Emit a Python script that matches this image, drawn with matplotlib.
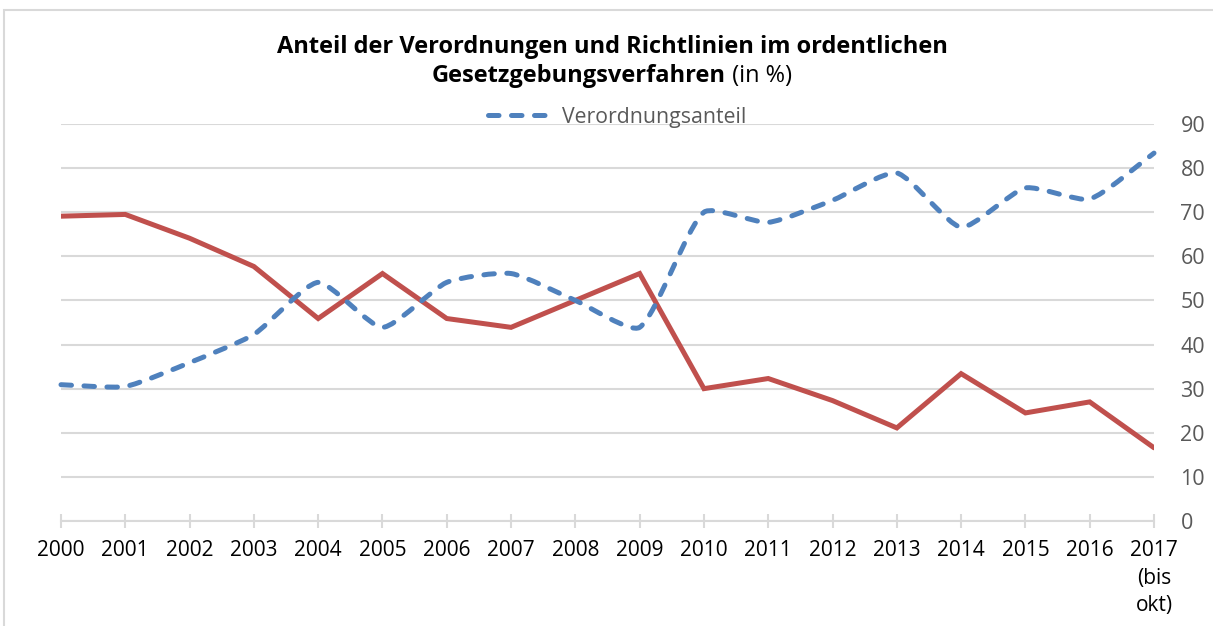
import matplotlib
matplotlib.use('Agg')
import matplotlib.pyplot as plt
from matplotlib.path import Path
from matplotlib.patches import PathPatch, Rectangle
from matplotlib.lines import Line2D
import numpy as np

# ---------------- data ----------------
years = ['2000', '2001', '2002', '2003', '2004', '2005', '2006', '2007', '2008',
         '2009', '2010', '2011', '2012', '2013', '2014', '2015', '2016',
         '2017\n(bis\nokt)']
verordnungsanteil = [30.9, 30.5, 35.9, 42.3, 54.1, 43.9, 54.1, 56.1, 50.0,
                     43.9, 70.0, 67.7, 72.7, 78.9, 66.6, 75.5, 73.0, 83.4]
richtlinienanteil = [69.1, 69.5, 64.1, 57.7, 45.9, 56.1, 45.9, 43.9, 50.0,
                     56.1, 30.0, 32.3, 27.3, 21.1, 33.4, 24.5, 27.0, 16.6]
y_ticks = [0, 10, 20, 30, 40, 50, 60, 70, 80, 90]

BLUE = '#4F81BD'
RED = '#C0504D'
GRID = '#D9D9D9'
TXT = '#595959'
FONT = 'Open Sans'

W, H = 1213, 626
fig = plt.figure(figsize=(W / 100, H / 100), dpi=100)
fig.patch.set_facecolor('white')

# chart-area border (partially visible)
fig.add_artist(Rectangle((4 / W, -0.1), 1.2, 1 - 10 / H + 0.1, transform=fig.transFigure,
                         fill=False, edgecolor='#D9D9D9', linewidth=1.5))

left, right, top, bottom = 61, 1154, 124, 521
ax = fig.add_axes([left / W, 1 - bottom / H, (right - left) / W, (bottom - top) / H])
x = np.arange(len(years))
ax.set_xlim(0, len(years) - 1)
ax.set_ylim(0, 90)

for s in ['top', 'left', 'right']:
    ax.spines[s].set_visible(False)
ax.spines['bottom'].set_color(GRID)
ax.spines['bottom'].set_linewidth(1.5)

ax.yaxis.tick_right()
ax.set_yticks(y_ticks)
ax.set_yticklabels([str(v) for v in y_ticks], fontfamily=FONT, fontsize=15.5, color=TXT)
ax.tick_params(axis='y', length=0, pad=19)
for lab in ax.get_yticklabels():
    lab.set_horizontalalignment('left')
ax.yaxis.grid(True, color=GRID, linewidth=1.5)
ax.set_axisbelow(True)

ax.set_xticks(x)
ax.set_xticklabels(years, fontfamily=FONT, fontsize=15, color='black', linespacing=1.38)
ax.tick_params(axis='x', direction='inout', length=10, width=1.5, color=GRID, pad=9)

# red straight line
ax.plot(x, richtlinienanteil, color=RED, linewidth=3.6, solid_capstyle='round',
        solid_joinstyle='miter', zorder=3)

# blue smoothed dashed line (Bezier through the points, screen-aspect tangents)
sx, sy = (right - left) / (len(years) - 1), (bottom - top) / 90.0
pts = np.column_stack([x * sx, np.asarray(verordnungsanteil) * sy]).astype(float)
n = len(pts)
tension = 0.2
verts = [tuple(pts[0])]
codes = [Path.MOVETO]


def ctrl(i, nxt):
    p_prev = pts[i - 1] if i > 0 else pts[i]
    p_next = pts[i + 1] if i + 1 < n else pts[i]
    tvec = p_next - p_prev
    d0 = np.linalg.norm(pts[i] - p_prev)
    d1 = np.linalg.norm(p_next - pts[i])
    tot = d0 + d1
    if tot == 0:
        return pts[i]
    if nxt:
        return pts[i] + tvec * tension * d1 / tot
    return pts[i] - tvec * tension * d0 / tot


for i in range(n - 1):
    c1 = ctrl(i, True)
    c2 = ctrl(i + 1, False)
    verts += [tuple(c1), tuple(c2), tuple(pts[i + 1])]
    codes += [Path.CURVE4] * 3
verts = [(vx / sx, vy / sy) for vx, vy in verts]
patch = PathPatch(Path(verts, codes), fill=False, edgecolor=BLUE, linewidth=3.6,
                  linestyle=(0, (2.1, 2.5)), capstyle='round', joinstyle='round', zorder=4)
patch.set_clip_on(False)
ax.add_patch(patch)

# legend
handle = Line2D([], [], color=BLUE, linewidth=3.6, linestyle=(0, (2.1, 2.5)),
                dash_capstyle='round')
fig.legend(handles=[handle], labels=['Verordnungsanteil'], loc='center',
           bbox_to_anchor=(617 / W, 1 - 117 / H), frameon=False,
           prop={'family': FONT, 'size': 15.3}, labelcolor=TXT,
           handlelength=3.0, handletextpad=0.5, borderpad=0, borderaxespad=0)

# title (two lines, second with mixed weight)
TS = 17.0
fig.text(612 / W, 1 - 47 / H, 'Anteil der Verordnungen und Richtlinien im ordentlichen',
         ha='center', va='center', fontfamily=FONT, fontweight='bold', fontsize=TS,
         color='black')
fig.canvas.draw()
r = fig.canvas.get_renderer()
t1 = fig.text(0, 1 - 76 / H, 'Gesetzgebungsverfahren', ha='left', va='center',
              fontfamily=FONT, fontweight='bold', fontsize=TS, color='black')
t2 = fig.text(0, 1 - 76 / H, ' (in %)', ha='left', va='center',
              fontfamily=FONT, fontsize=TS, color='black')
w1 = t1.get_window_extent(r).width
w2 = t2.get_window_extent(r).width
x0 = 612 - (w1 + w2) / 2
t1.set_x(x0 / W)
t2.set_x((x0 + w1) / W)

fig.savefig('out.png', dpi=100, facecolor='white')
